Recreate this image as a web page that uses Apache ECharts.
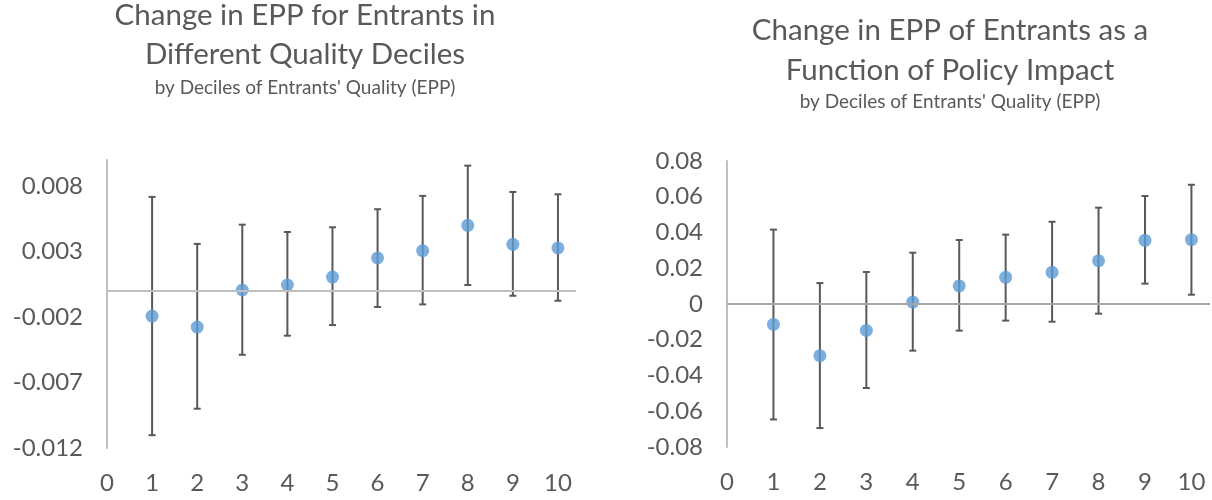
<!DOCTYPE html>
<html>
<head>
<meta charset="utf-8">
<script src="https://cdn.jsdelivr.net/npm/echarts@6/dist/echarts.min.js"></script>
<style>
html,body{margin:0;padding:0;background:#fff;}
#chart{width:1212px;height:500px;}
</style>
</head>
<body>
<div id="chart"></div>
<script>
// ---------- data ----------
const deciles = [1, 2, 3, 4, 5, 6, 7, 8, 9, 10];
const xTickLabels = ['0', '1', '2', '3', '4', '5', '6', '7', '8', '9', '10'];

// Left chart: Change in EPP for entrants in different quality deciles
const leftMean  = [-0.00192, -0.00276, 0.00007, 0.00045, 0.00106, 0.00252, 0.00307, 0.00501, 0.00356, 0.00328];
const leftUpper = [0.00718, 0.00359, 0.00506, 0.00450, 0.00486, 0.00624, 0.00726, 0.00957, 0.00756, 0.00738];
const leftLower = [-0.01102, -0.00900, -0.00488, -0.00342, -0.00261, -0.00123, -0.00103, 0.00045, -0.00037, -0.00075];
const leftYTickLabels = ['-0.012', '-0.007', '-0.002', '0.003', '0.008'];

// Right chart: Change in EPP of entrants as a function of policy impact
const rightMean  = [-0.0114, -0.0289, -0.0148, 0.0011, 0.0101, 0.0149, 0.0177, 0.0242, 0.0356, 0.0360];
const rightUpper = [0.0416, 0.0117, 0.0179, 0.0287, 0.0358, 0.0388, 0.0460, 0.0539, 0.0604, 0.0667];
const rightLower = [-0.0646, -0.0694, -0.0470, -0.0261, -0.0149, -0.0093, -0.0099, -0.0054, 0.0114, 0.0052];
const rightYTickLabels = ['-0.08', '-0.06', '-0.04', '-0.02', '0', '0.02', '0.04', '0.06', '0.08'];

const leftTitle = ['Change in EPP for Entrants in', 'Different Quality Deciles'];
const rightTitle = ['Change in EPP of Entrants as a', 'Function of Policy Impact'];
const subTitle = "by Deciles of Entrants' Quality (EPP)";

// ---------- build ----------
const FONT = 'Lato, "Open Sans", sans-serif';
const TXT = '#595959';

function pts(mean) { return deciles.map((d, i) => [d, mean[i]]); }
function bars(lo, hi) { return deciles.map((d, i) => [d, lo[i], hi[i]]); }

function nearestLabel(list, v) {
  let best = '', bd = Infinity;
  list.forEach(s => { const d = Math.abs(parseFloat(s) - v); if (d < bd) { bd = d; best = s; } });
  return bd < 1e-6 ? best : '';
}

function errRender(params, api) {
  const x = api.value(0), lo = api.value(1), hi = api.value(2);
  const a = api.coord([x, hi]), b = api.coord([x, lo]);
  const w = 3.5;
  const st = { stroke: '#595959', lineWidth: 2 };
  return {
    type: 'group',
    children: [
      { type: 'line', shape: { x1: a[0], y1: a[1], x2: b[0], y2: b[1] }, style: st },
      { type: 'line', shape: { x1: a[0] - w, y1: a[1], x2: a[0] + w, y2: a[1] }, style: st },
      { type: 'line', shape: { x1: b[0] - w, y1: b[1], x2: b[0] + w, y2: b[1] }, style: st }
    ]
  };
}

function xAxis(gi) {
  return {
    type: 'value', gridIndex: gi, min: 0, max: 10.4, interval: 1,
    axisLine: { show: false, onZero: false }, axisTick: { show: false }, splitLine: { show: false },
    axisLabel: {
      color: TXT, fontFamily: FONT, fontSize: 24, margin: 23, showMaxLabel: false,
      formatter: v => nearestLabel(xTickLabels, v)
    }
  };
}

function yAxis(gi, min, max, interval, labels, showMax) {
  return {
    type: 'value', gridIndex: gi, min: min, max: max, interval: interval,
    axisLine: { show: true, onZero: false, lineStyle: { color: '#bfbfbf', width: 2 } },
    axisTick: { show: false }, splitLine: { show: false },
    axisLabel: {
      color: TXT, fontFamily: FONT, fontSize: 24, margin: 24, showMaxLabel: showMax,
      formatter: v => nearestLabel(labels, v)
    }
  };
}

function zeroLine(gi, color) {
  return {
    type: 'scatter', xAxisIndex: gi, yAxisIndex: gi, data: [], z: 0, silent: true,
    markLine: {
      silent: true, symbol: ['none', 'none'], label: { show: false }, animation: false,
      lineStyle: { color: color, width: 2, type: 'solid' },
      data: [{ yAxis: 0 }]
    }
  };
}

function errSeries(gi, lo, hi) {
  return {
    type: 'custom', xAxisIndex: gi, yAxisIndex: gi, z: 1, silent: true,
    renderItem: errRender, encode: { x: 0, y: [1, 2] }, data: bars(lo, hi)
  };
}

function ptSeries(gi, mean) {
  return {
    type: 'scatter', xAxisIndex: gi, yAxisIndex: gi, z: 3, symbol: 'circle', symbolSize: 13,
    itemStyle: { color: '#5B9BD5' }, data: pts(mean)
  };
}

function txt(x, y, s, size) {
  return {
    type: 'text', x: x, y: y, silent: true,
    style: { text: s, fill: TXT, font: size + 'px ' + FONT, align: 'center', verticalAlign: 'middle' }
  };
}

const option = {
  backgroundColor: '#ffffff',
  animation: false,
  grid: [
    { left: 107, top: 160, width: 469, height: 288 },
    { left: 727, top: 161, width: 483, height: 286 }
  ],
  xAxis: [xAxis(0), xAxis(1)],
  yAxis: [
    yAxis(0, -0.012, 0.010, 0.005, leftYTickLabels, false),
    yAxis(1, -0.08, 0.08, 0.02, rightYTickLabels, true)
  ],
  graphic: [
    txt(305, 15.5, leftTitle[0], 29.5),
    txt(305, 54, leftTitle[1], 29.5),
    txt(305, 87.5, subTitle, 19),
    txt(950, 30, rightTitle[0], 29.5),
    txt(950, 70.5, rightTitle[1], 29.5),
    txt(950, 101.5, subTitle, 19)
  ],
  series: [
    zeroLine(0, '#bfbfbf'), errSeries(0, leftLower, leftUpper), ptSeries(0, leftMean),
    zeroLine(1, '#a6a6a6'), errSeries(1, rightLower, rightUpper), ptSeries(1, rightMean)
  ]
};

const chart = echarts.init(document.getElementById('chart'), null, { renderer: 'canvas' });
chart.setOption(option);
</script>
</body>
</html>
